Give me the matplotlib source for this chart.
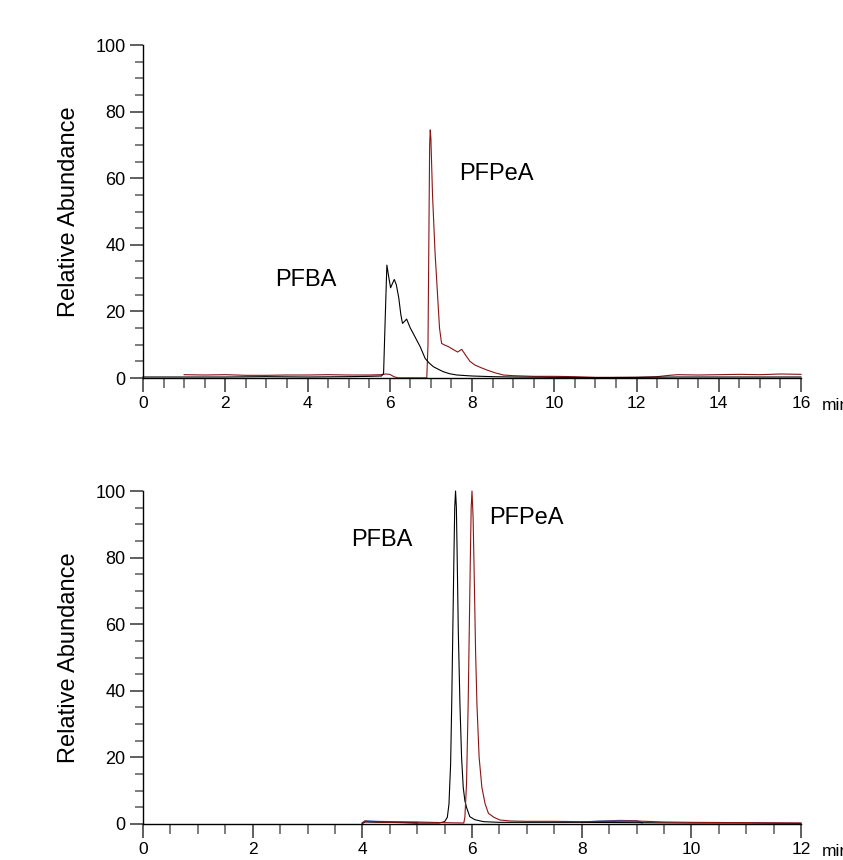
import matplotlib
matplotlib.use("Agg")
import matplotlib.pyplot as plt
from matplotlib.ticker import MultipleLocator

plt.rcParams['font.family'] = ['Liberation Sans', 'DejaVu Sans']

# ---- Top panel data ----
top_pfba_t = [0, 1, 2, 3, 4, 5, 5.5, 5.8, 5.85, 5.89, 5.93, 5.98, 6.02, 6.07, 6.11, 6.16, 6.22,
              6.27, 6.31, 6.36, 6.41, 6.5, 6.57, 6.65, 6.74, 6.86, 6.95, 7.06, 7.2, 7.3, 7.45,
              7.63, 8.0, 8.5, 9, 10, 11, 12, 13, 14, 15, 16]
top_pfba_v = [0.3, 0.3, 0.3, 0.4, 0.3, 0.4, 0.5, 0.6, 1.4, 18, 33.9, 30, 27.1, 28.5, 29.6, 28, 24,
              19, 16.4, 17.0, 17.7, 15, 13.4, 11.5, 9.4, 5.9, 4.6, 3.4, 2.5, 1.9, 1.3,
              0.9, 0.6, 0.4, 0.3, 0.2, 0.1, 0.2, 0.3, 0.3, 0.3, 0.3]

top_pfpea_t = [1.0, 1.5, 2, 2.5, 3, 3.5, 4, 4.5, 5, 5.5, 5.8, 5.9, 6.0, 6.1, 6.2, 6.9,
               6.93, 6.95, 6.97, 6.985, 7.0, 7.04, 7.1, 7.16, 7.21, 7.26, 7.35, 7.43, 7.55,
               7.65, 7.75, 7.87, 7.95, 8.07, 8.2, 8.36, 8.55, 8.76, 9, 9.5, 10, 10.5, 11,
               11.5, 12, 12.5, 12.8, 13, 13.5, 14, 14.5, 15, 15.5, 16]
top_pfpea_v = [1.0, 0.9, 1.0, 0.8, 0.8, 0.9, 0.9, 1.0, 0.9, 0.9, 1.0, 1.2, 1.1, 0.4, 0.05, 0.05,
               10, 40, 70, 74.5, 72, 55, 38, 25.4, 15, 10.4, 9.8, 9.4, 8.5,
               7.8, 8.6, 6.4, 5.0, 3.9, 3.2, 2.4, 1.6, 0.9, 0.7, 0.5, 0.5, 0.4, 0.2,
               0.2, 0.2, 0.4, 0.8, 1.0, 0.9, 1.0, 1.1, 1.0, 1.2, 1.1]

# ---- Bottom panel data ----
bot_pfba_t = [4.0, 4.05, 4.5, 5.0, 5.4, 5.5, 5.55, 5.58, 5.61, 5.63, 5.65, 5.67, 5.685, 5.70,
              5.715, 5.73, 5.75, 5.78, 5.81, 5.84, 5.87, 5.9, 5.96, 6.05, 6.21, 6.5, 7, 8,
              9, 10, 11, 12]
bot_pfba_v = [0.2, 0.6, 0.5, 0.3, 0.3, 0.7, 2, 6, 18, 36, 58, 80, 95, 100,
              95, 80, 58, 36, 20, 11, 7, 5, 2.2, 1.3, 0.7, 0.5, 0.5, 0.5,
              0.4, 0.3, 0.3, 0.2]

bot_pfpea_t = [4.0, 4.05, 4.5, 5.0, 5.5, 5.85, 5.87, 5.9, 5.93, 5.95, 5.97, 5.985, 6.0, 6.02,
               6.04, 6.065, 6.09, 6.13, 6.18, 6.24, 6.30, 6.4, 6.51, 6.7, 7, 7.5, 8, 8.5,
               9, 9.5, 10, 11, 12]
bot_pfpea_v = [0.3, 0.8, 0.5, 0.6, 0.4, 0.3, 2, 12, 36, 58, 80, 95, 100, 92,
               75, 52, 36, 20, 11, 6, 3.2, 2, 1.2, 0.9, 0.8, 0.8, 0.7, 0.8,
               0.9, 0.6, 0.5, 0.4, 0.3]

bot_blue1_t = [4.0, 4.05, 4.3, 4.7, 5.0]
bot_blue1_v = [0.3, 0.9, 0.7, 0.6, 0.4]
bot_blue2_t = [8.0, 8.3, 8.7, 9.0, 9.1]
bot_blue2_v = [0.5, 0.8, 1.0, 0.9, 0.4]

RED = '#8b1414'
BLUE = '#3a4fb0'

fig = plt.figure(figsize=(8.43, 8.6), dpi=100)
ax1 = fig.add_axes([143/843, 1-378/860, 658/843, 333/860])
ax2 = fig.add_axes([143/843, 1-824/860, 658/843, 333/860])


def style(ax, xmax):
    ax.set_xlim(0, xmax)
    ax.set_ylim(0, 100)
    for s in ['top', 'right']:
        ax.spines[s].set_visible(False)
    for s in ['left', 'bottom']:
        ax.spines[s].set_linewidth(1.0)
        ax.spines[s].set_color('black')
    ax.xaxis.set_major_locator(MultipleLocator(2))
    ax.xaxis.set_minor_locator(MultipleLocator(0.5))
    ax.yaxis.set_major_locator(MultipleLocator(20))
    ax.yaxis.set_minor_locator(MultipleLocator(5))
    ax.tick_params(axis='x', which='major', direction='out', length=10, width=1.2,
                   color='#444444', labelsize=12.5, pad=3)
    ax.tick_params(axis='x', which='minor', direction='out', length=7, width=1.2,
                   color='#666666')
    ax.tick_params(axis='y', which='major', direction='out', length=9.5, width=1.2,
                   color='#444444', labelsize=13, pad=3)
    ax.tick_params(axis='y', which='minor', direction='out', length=5.5, width=1.2,
                   color='#666666')
    ax.set_ylabel('Relative Abundance', fontsize=17, labelpad=11)
    ax.annotate('min', xy=(1, 0), xycoords='axes fraction', xytext=(21, -20),
                textcoords='offset pixels', fontsize=12.5, va='top', ha='left',
                annotation_clip=False)


style(ax1, 16)
style(ax2, 12)

ax1.plot(top_pfpea_t, top_pfpea_v, color=RED, lw=0.8, clip_on=False)
ax1.plot(top_pfba_t, top_pfba_v, color='black', lw=0.8, clip_on=False)
ax1.text(3.96, 29.4, 'PFBA', fontsize=17, ha='center', va='center')
ax1.text(8.6, 61.3, 'PFPeA', fontsize=17, ha='center', va='center')

ax2.plot(bot_blue1_t, bot_blue1_v, color=BLUE, lw=1.2, clip_on=False)
ax2.plot(bot_blue2_t, bot_blue2_v, color=BLUE, lw=1.2, clip_on=False)
ax2.plot(bot_pfba_t, bot_pfba_v, color='black', lw=0.8, clip_on=False)
ax2.plot(bot_pfpea_t, bot_pfpea_v, color=RED, lw=0.8, clip_on=False)
ax2.text(4.36, 85.3, 'PFBA', fontsize=17, ha='center', va='center')
ax2.text(7.0, 91.9, 'PFPeA', fontsize=17, ha='center', va='center')

fig.savefig('out.png', dpi=100)
